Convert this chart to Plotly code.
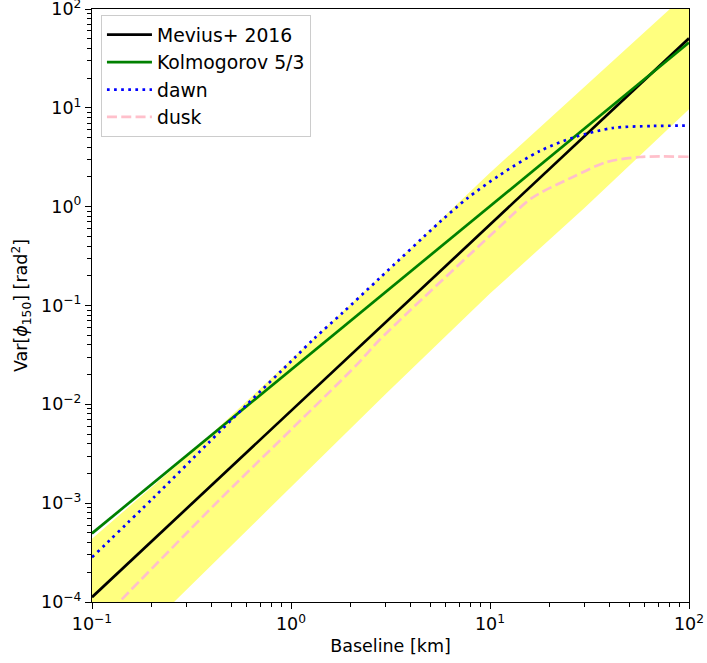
import plotly.graph_objects as go

# ---- data ----
# Mevius+ 2016 power law
mev_x = [0.1, 0.3, 1, 3, 10, 30, 100]
mev_y = [1.12e-4, 8.85e-4, 8.57e-3, 0.0679, 0.658, 5.21, 50.5]

# Kolmogorov 5/3
kol_x = [0.1, 1, 10, 100]
kol_y = [4.95e-4, 0.0224, 1.01, 45.7]

# dawn
dawn_x = [0.1, 0.205, 0.379, 0.602, 1.04, 1.31, 1.81, 2.78, 5.57, 7.71, 11.2, 17.8, 26.7, 41.4, 65.8, 100]
dawn_y = [2.83e-4, 1.15e-3, 3.95e-3, 1.0e-2, 0.0294, 0.0465, 0.0838, 0.188, 0.693, 1.22, 2.09, 3.66, 5.06, 6.25, 6.55, 6.6]

# dusk
dusk_x = [0.1, 0.137, 0.435, 2.13, 2.78, 11.2, 16.2, 26.1, 38.6, 56.6, 100]
dusk_y = [5.2e-5, 1.0e-4, 1.07e-3, 0.0249, 0.0447, 0.627, 1.22, 2.0, 2.83, 3.18, 3.2]

# uncertainty band
band_x = [0.1, 0.3, 1, 3, 10, 30, 100]
band_lo = [1.53e-5, 1.34e-4, 1.45e-3, 0.0128, 0.132, 0.98, 9.7]
band_hi = [4.37e-4, 2.95e-3, 0.0282, 0.22, 2.2, 16.7, 150]

x_tickvals = [0.1, 1, 10, 100]
x_ticktext = ["10<sup>−1</sup>", "10<sup>0</sup>", "10<sup>1</sup>", "10<sup>2</sup>"]
y_tickvals = [1e-4, 1e-3, 1e-2, 1e-1, 1, 10, 100]
y_ticktext = ["10<sup>−4</sup>", "10<sup>−3</sup>", "10<sup>−2</sup>", "10<sup>−1</sup>",
              "10<sup>0</sup>", "10<sup>1</sup>", "10<sup>2</sup>"]

FONT = "DejaVu Sans"
FS = 17.5
LFS = 18.8
LW = 2.7

fig = go.Figure()

fig.add_trace(go.Scatter(x=band_x, y=band_lo, mode="lines", line=dict(width=0),
                         showlegend=False, hoverinfo="skip"))
fig.add_trace(go.Scatter(x=band_x, y=band_hi, mode="lines", line=dict(width=0),
                         fill="tonexty", fillcolor="rgba(255,255,0,0.5)",
                         showlegend=False, hoverinfo="skip"))

fig.add_trace(go.Scatter(x=mev_x, y=mev_y, mode="lines", name="Mevius+ 2016", legendgroup="a",
                         line=dict(color="black", width=LW)))
fig.add_trace(go.Scatter(x=kol_x, y=kol_y, mode="lines", name="Kolmogorov 5/3", legendgroup="b",
                         line=dict(color="green", width=LW)))
fig.add_trace(go.Scatter(x=dawn_x, y=dawn_y, mode="lines", name="dawn", legendgroup="c",
                         line=dict(color="blue", width=LW, dash="2.7px,4.4px", shape="spline", smoothing=0.8)))
fig.add_trace(go.Scatter(x=dusk_x, y=dusk_y, mode="lines", name="dusk", legendgroup="d",
                         line=dict(color="pink", width=LW, dash="10px,4.3px", shape="spline", smoothing=0.8)))

minor_x = [m * 10 ** e for e in range(-1, 2) for m in range(2, 10)]
minor_y = [m * 10 ** e for e in range(-4, 2) for m in range(2, 10)]

axis_common = dict(type="log", showline=True, mirror=True, linecolor="black", linewidth=1.3,
                   ticks="outside", ticklen=6, tickwidth=1.3, tickcolor="black",
                   showgrid=False, zeroline=False, automargin=False, ticklabeloverflow="allow",
                   tickfont=dict(family=FONT, size=FS, color="black"))

fig.update_xaxes(range=[-1, 2], tickvals=x_tickvals, ticktext=x_ticktext,
                 minor=dict(tickvals=minor_x, ticks="outside", ticklen=3.5, tickwidth=1, tickcolor="black", showgrid=False),
                 title=dict(text="Baseline [km]", font=dict(family=FONT, size=FS, color="black"), standoff=6),
                 **axis_common)
fig.update_yaxes(range=[-4, 2], tickvals=y_tickvals, ticktext=y_ticktext,
                 minor=dict(tickvals=minor_y, ticks="outside", ticklen=3.5, tickwidth=1, tickcolor="black", showgrid=False),
                 title=dict(text="Var[<i>ϕ</i><sub>150</sub>] [rad<sup>2</sup>]",
                            font=dict(family=FONT, size=FS, color="black"), standoff=8),
                 **axis_common)

fig.update_layout(
    width=707, height=663,
    margin=dict(l=92, r=18, t=9, b=61),
    plot_bgcolor="white", paper_bgcolor="white",
    font=dict(family=FONT, size=FS, color="black"),
    legend=dict(x=0.015, y=0.99, xanchor="left", yanchor="top", traceorder="normal",
                bgcolor="rgba(255,255,255,0.8)", bordercolor="#cccccc", borderwidth=1,
                itemwidth=45,
                font=dict(family=FONT, size=LFS, color="black"), tracegroupgap=0),
)

fig.write_html("out.html")
